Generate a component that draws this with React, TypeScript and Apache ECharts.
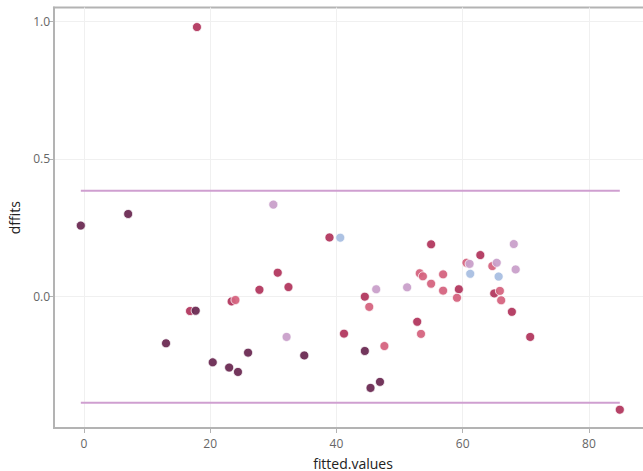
import React, { useEffect, useRef } from "react";
import * as echarts from "echarts";

// fitted values (x), dffits (y), colour group per point
const fittedValues = [
  -0.5, 7.0, 17.9, 16.8, 17.7, 13.0, 20.4, 23.0, 24.4, 23.4, 24.0, 30.0, 38.9, 40.6, 30.7, 32.4, 27.8,
  32.1, 26.0, 34.9, 44.5, 46.3, 51.2, 45.2, 41.2, 44.5, 47.6, 45.4, 46.9, 55.0, 62.8, 68.1, 60.6, 61.1,
  61.2, 64.7, 65.4, 65.7, 68.4, 53.2, 53.7, 56.9, 55.0, 56.9, 59.4, 59.1, 65.0, 65.9, 66.1, 67.8, 52.8,
  53.4, 70.7, 84.9,
];
const dffits = [
  0.258, 0.3, 0.978, -0.052, -0.051, -0.169, -0.238, -0.257, -0.273, -0.017, -0.012, 0.334, 0.215, 0.214,
  0.087, 0.035, 0.025, -0.146, -0.203, -0.213, 0.0, 0.027, 0.034, -0.037, -0.134, -0.197, -0.179, -0.331,
  -0.309, 0.19, 0.151, 0.191, 0.123, 0.119, 0.083, 0.111, 0.123, 0.073, 0.099, 0.085, 0.074, 0.081, 0.047,
  0.022, 0.027, -0.004, 0.012, 0.021, -0.013, -0.055, -0.091, -0.135, -0.146, -0.41,
];
const groups = [
  0, 0, 1, 1, 0, 0, 0, 0, 0, 1, 2, 3, 1, 4, 1, 1, 1, 3, 0, 0, 1, 3, 3, 2, 1, 0, 2, 0, 0, 1, 1, 3, 2, 3, 4,
  2, 3, 4, 3, 2, 2, 2, 2, 2, 1, 2, 1, 2, 2, 1, 1, 2, 1, 1,
];
const threshold = 0.3845;
const xTicks = [0, 20, 40, 60, 80];
const yTicks = [0, 0.5, 1.0];

const palette = ["#6c2b53", "#b2385f", "#d5647f", "#c9a0ca", "#a9bfe1"];

export default function App() {
  const ref = useRef<HTMLDivElement>(null);
  useEffect(() => {
    if (!ref.current) return;
    const chart = echarts.init(ref.current, undefined, { renderer: "svg" });
    const xMin = Math.min(...fittedValues);
    const xMax = Math.max(...fittedValues);
    const pts = fittedValues.map((x, i) => ({
      value: [x, dffits[i]],
      itemStyle: { color: palette[groups[i]] },
    }));
    const axisCommon = {
      axisLine: { show: true, onZero: false, lineStyle: { color: "#b3b3b3", width: 2 } },
      axisTick: { show: true, length: 5, lineStyle: { color: "#b3b3b3", width: 1 } },
      splitLine: { show: true, lineStyle: { color: "#f0f0f0", width: 1 } },
      nameTextStyle: { fontFamily: "Open Sans", fontSize: 14, color: "#222", lineHeight: 16 },
    };
    chart.setOption({
      animation: false,
      backgroundColor: "#fff",
      grid: {
        left: 54,
        top: 7.5,
        right: 0,
        bottom: 43,
        outerBoundsMode: "none",
        containLabel: false,
        show: true,
        borderColor: "#b3b3b3",
        borderWidth: 2,
        backgroundColor: "transparent",
      },
      xAxis: {
        type: "value",
        min: -4.75,
        max: 90,
        name: "fitted.values",
        nameLocation: "middle",
        nameGap: 27,
        ...axisCommon,
        axisTick: { ...axisCommon.axisTick, customValues: xTicks },
        axisLabel: {
          customValues: xTicks,
          fontFamily: "Open Sans",
          fontSize: 12,
          color: "#666",
          margin: 9,
        },
      },
      yAxis: {
        type: "value",
        min: -0.4763,
        max: 1.049,
        name: "dffits",
        nameLocation: "middle",
        nameGap: 31,
        ...axisCommon,
        axisTick: { ...axisCommon.axisTick, customValues: yTicks },
        axisLabel: {
          customValues: yTicks,
          formatter: (v: number) => v.toFixed(1),
          fontFamily: "Open Sans",
          fontSize: 12,
          color: "#666",
          margin: 4,
        },
      },
      series: [
        {
          type: "line",
          data: [
            [xMin, threshold],
            [xMax, threshold],
          ],
          symbol: "none",
          lineStyle: { color: "#cf9fd0", width: 2 },
          silent: true,
        },
        {
          type: "line",
          data: [
            [xMin, -threshold],
            [xMax, -threshold],
          ],
          symbol: "none",
          lineStyle: { color: "#cf9fd0", width: 2 },
          silent: true,
        },
        {
          type: "scatter",
          data: pts,
          symbolSize: 9,
          itemStyle: { borderColor: "rgba(255,255,255,0.8)", borderWidth: 1, opacity: 0.95 },
        },
      ],
    });
    return () => chart.dispose();
  }, []);
  return (
    <div style={{ position: "fixed", left: 0, top: 0, width: 643, height: 471, overflow: "hidden" }}>
      <div ref={ref} style={{ width: 652, height: 471 }} />
    </div>
  );
}
